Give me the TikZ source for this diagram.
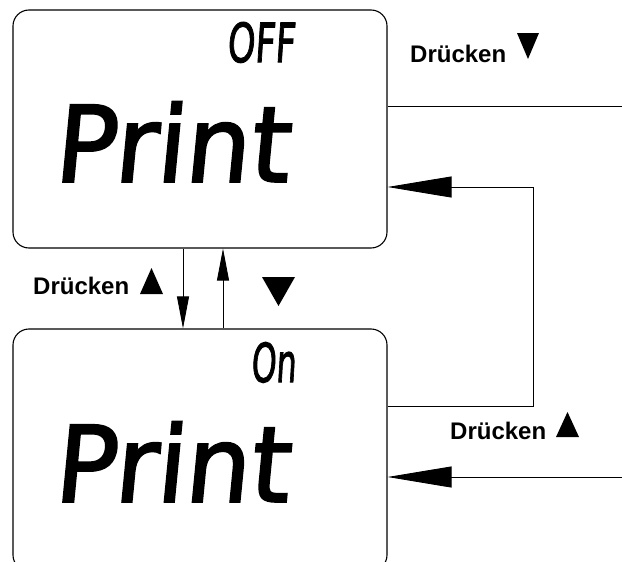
\documentclass[tikz,border=0pt]{standalone}
\usepackage{fontspec}
\usepackage{graphicx}
\setmainfont{Liberation Sans}
\newfontfamily\lcdfont{DejaVu Sans}[FakeSlant=0.1, FakeBold=2]
\usetikzlibrary{arrows.meta}

\tikzset{
  lcdbox/.style={draw, line width=1.1pt, rounded corners=16pt, minimum width=374pt, inner sep=0pt},
  wire/.style={line width=0.9pt},
  bigtip/.style={wire, -{Triangle[length=64pt,width=21pt]}},
  smalltip/.style={wire, -{Triangle[length=32pt,width=12pt]}},
  keylabel/.style={font=\fontsize{24pt}{28pt}\selectfont\bfseries, inner sep=0pt, anchor=base west},
  segtext/.style={inner sep=0pt, font=\lcdfont},
  keymark/.style={fill=black}
}

\begin{document}
\begin{tikzpicture}[x=1pt, y=-1pt]
  \clip (0,0) rectangle (622,562);

  % the two display screens
  \node[lcdbox, minimum height=238pt] (top) at (200,129) {};
  \node[lcdbox, minimum height=242pt] (bot) at (200,450) {};

  % display contents
  \node[segtext, anchor=south east] (offtxt) at (295,63) {\resizebox{68pt}{40pt}{OFF}};
  \node[segtext, anchor=south west] (print1) at (53,182) {\resizebox{235pt}{80pt}{Print}};
  \node[segtext, anchor=south east] (ontxt) at (296,383) {\resizebox{45pt}{40pt}{On}};
  \node[segtext, anchor=south west] (print2) at (53,502) {\resizebox{235pt}{80pt}{Print}};

  % connector routing points
  \coordinate (r1) at (622,106);
  \coordinate (k1) at (533,406);
  \coordinate (k2) at (533,187);
  \coordinate (r2) at (622,477);
  \coordinate (d1) at (183,290);
  \coordinate (u1) at (223,290);

  % right-hand connectors
  \draw[wire] (r1) -- (r1 -| top.east);
  \draw[bigtip] (k1 -| bot.east) -- (k1) -- (k2) -- (k2 -| top.east);
  \draw[bigtip] (r2) -- (r2 -| bot.east);

  % connectors between the screens
  \draw[smalltip] (d1 |- top.south) -- (d1 |- bot.north);
  \draw[smalltip] (u1 |- bot.north) -- (u1 |- top.south);

  % key labels
  \node[keylabel] (lab1) at (410,63) {Drücken};
  \node[keylabel] (lab2) at (33,294) {Drücken};
  \node[keylabel] (lab3) at (450,439) {Drücken};

  % key symbols
  \fill[keymark] (517,33) -- (539,33) -- (528,59) -- cycle;
  \fill[keymark] (140,294) -- (163,294) -- (151.5,268) -- cycle;
  \fill[keymark] (262,277) -- (295,277) -- (278.5,306) -- cycle;
  \fill[keymark] (556,437) -- (579,437) -- (567.5,412) -- cycle;
\end{tikzpicture}
\end{document}
